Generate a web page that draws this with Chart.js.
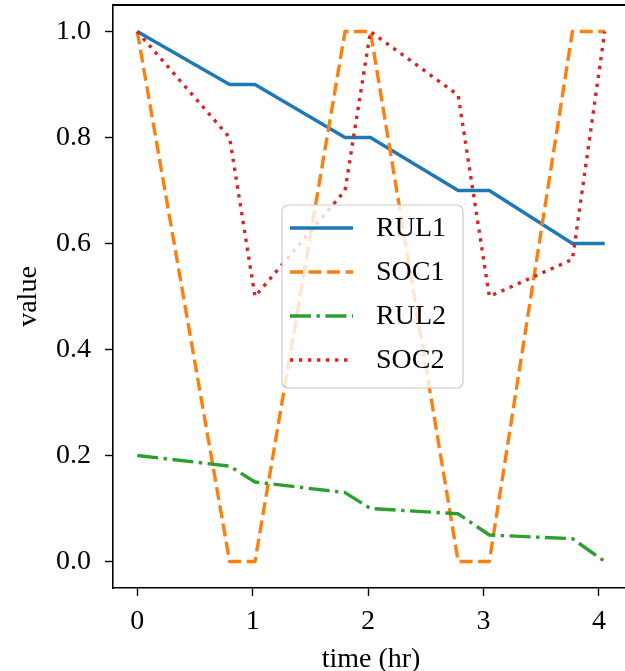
<!DOCTYPE html>
<html>
<head>
<meta charset="utf-8">
<script src="https://cdn.jsdelivr.net/npm/chart.js@4"></script>
<style>
  html, body { margin: 0; padding: 0; background: #fff; overflow: hidden; }
  #wrap { width: 640px; height: 671px; }
</style>
</head>
<body>
<div id="wrap"><canvas id="chart" width="640" height="671"></canvas></div>
<script>
// time samples (hr) shared by all series
const times = [0, 0.8, 1.02, 1.8, 2.02, 2.78, 3.05, 3.77, 4.05];
const rul1 = [1.0, 0.9, 0.9, 0.8, 0.8, 0.7, 0.7, 0.6, 0.6];
const soc1 = [1.0, 0.0, 0.0, 1.0, 1.0, 0.0, 0.0, 1.0, 1.0];
const rul2 = [0.2, 0.18, 0.15, 0.13, 0.10, 0.09, 0.05, 0.043, 0.0];
const soc2 = [1.0, 0.8, 0.5, 0.7, 1.0, 0.88, 0.5, 0.57, 1.0];
const xTicks = [0, 1, 2, 3, 4];
const yTicks = [0, 0.2, 0.4, 0.6, 0.8, 1.0];

const FONT = "'Liberation Serif', 'Times New Roman', serif";
const LW = 3.4;
const pts = ys => times.map((t, i) => ({ x: t, y: ys[i] }));

const series = [
  { label: 'RUL1', data: rul1, color: '#1f77b4', dash: [] },
  { label: 'SOC1', data: soc1, color: '#ff7f0e', dash: [13, 5.5] },
  { label: 'RUL2', data: rul2, color: '#2ca02c', dash: [21, 5.5, 3.4, 5.5] },
  { label: 'SOC2', data: soc2, color: '#d62728', dash: [3.4, 5.6] }
];

// drop the label overhang padding chart.js reserves around the axes
const noOverhang = s => { s.paddingTop = 0; s.paddingBottom = 0; s.paddingLeft = 0; s.paddingRight = 0; };

// matplotlib-like legend box + top spine
const mplLegend = {
  id: 'mplLegend',
  afterDraw(chart) {
    const { ctx, chartArea: a } = chart;
    ctx.save();
    ctx.setLineDash([]);
    ctx.fillStyle = '#000';
    ctx.fillRect(a.left - 0.8, a.top - 1, chart.width - a.left + 1, 2);

    const bx = a.left + 169, by = a.top + 200, bw = 181, bh = 183;
    ctx.beginPath();
    ctx.roundRect(bx, by, bw, bh, 6);
    ctx.fillStyle = 'rgba(255,255,255,0.8)';
    ctx.fill();
    ctx.strokeStyle = '#cccccc';
    ctx.lineWidth = 1.2;
    ctx.stroke();

    ctx.font = '28px ' + FONT;
    ctx.textBaseline = 'middle';
    series.forEach((s, i) => {
      const y = by + 23 + i * 44;
      ctx.beginPath();
      ctx.strokeStyle = s.color;
      ctx.lineWidth = LW;
      ctx.setLineDash(s.dash);
      ctx.moveTo(bx + 8, y);
      ctx.lineTo(bx + 71, y);
      ctx.stroke();
      ctx.setLineDash([]);
      ctx.fillStyle = '#000';
      ctx.fillText(s.label, bx + 94, y + 1);
    });
    ctx.restore();
  }
};

new Chart(document.getElementById('chart'), {
  type: 'line',
  data: {
    datasets: series.map((s, i) => ({
      label: s.label,
      data: pts(s.data),
      borderColor: s.color,
      backgroundColor: s.color,
      borderWidth: LW,
      borderDash: s.dash,
      borderJoinStyle: 'round',
      pointRadius: 0,
      tension: 0,
      fill: false,
      order: series.length - i
    }))
  },
  options: {
    responsive: false,
    animation: false,
    layout: { padding: { top: 5, right: 11, left: 0, bottom: 0 } },
    plugins: { legend: { display: false }, tooltip: { enabled: false } },
    scales: {
      x: {
        type: 'linear',
        min: -0.21,
        max: 4.26,
        afterBuildTicks: s => { s.ticks = xTicks.map(v => ({ value: v })); },
        afterFit: s => { s.height = 83; noOverhang(s); },
        border: { display: true, color: '#000', width: 1.6 },
        grid: { display: true, drawOnChartArea: false, drawTicks: true, tickLength: 8, color: '#000', tickWidth: 1.4 },
        ticks: { color: '#000', padding: 9, maxRotation: 0, font: { family: FONT, size: 28 } },
        title: { display: true, text: 'time (hr)', color: '#000', padding: { top: 0, bottom: 0 }, font: { family: FONT, size: 28, lineHeight: 0.8 } }
      },
      y: {
        type: 'linear',
        min: -0.05,
        max: 1.05,
        afterBuildTicks: s => { s.ticks = yTicks.map(v => ({ value: v })); },
        afterFit: s => { s.width = 113; noOverhang(s); },
        border: { display: true, color: '#000', width: 1.6 },
        grid: { display: true, drawOnChartArea: false, drawTicks: true, tickLength: 8, color: '#000', tickWidth: 1.4 },
        ticks: { color: '#000', padding: 14, font: { family: FONT, size: 28 }, callback: v => v.toFixed(1) },
        title: { display: true, text: 'value', color: '#000', padding: { top: 15, bottom: 0 }, font: { family: FONT, size: 28, lineHeight: 1.0 } }
      }
    }
  },
  plugins: [mplLegend]
});
</script>
</body>
</html>
